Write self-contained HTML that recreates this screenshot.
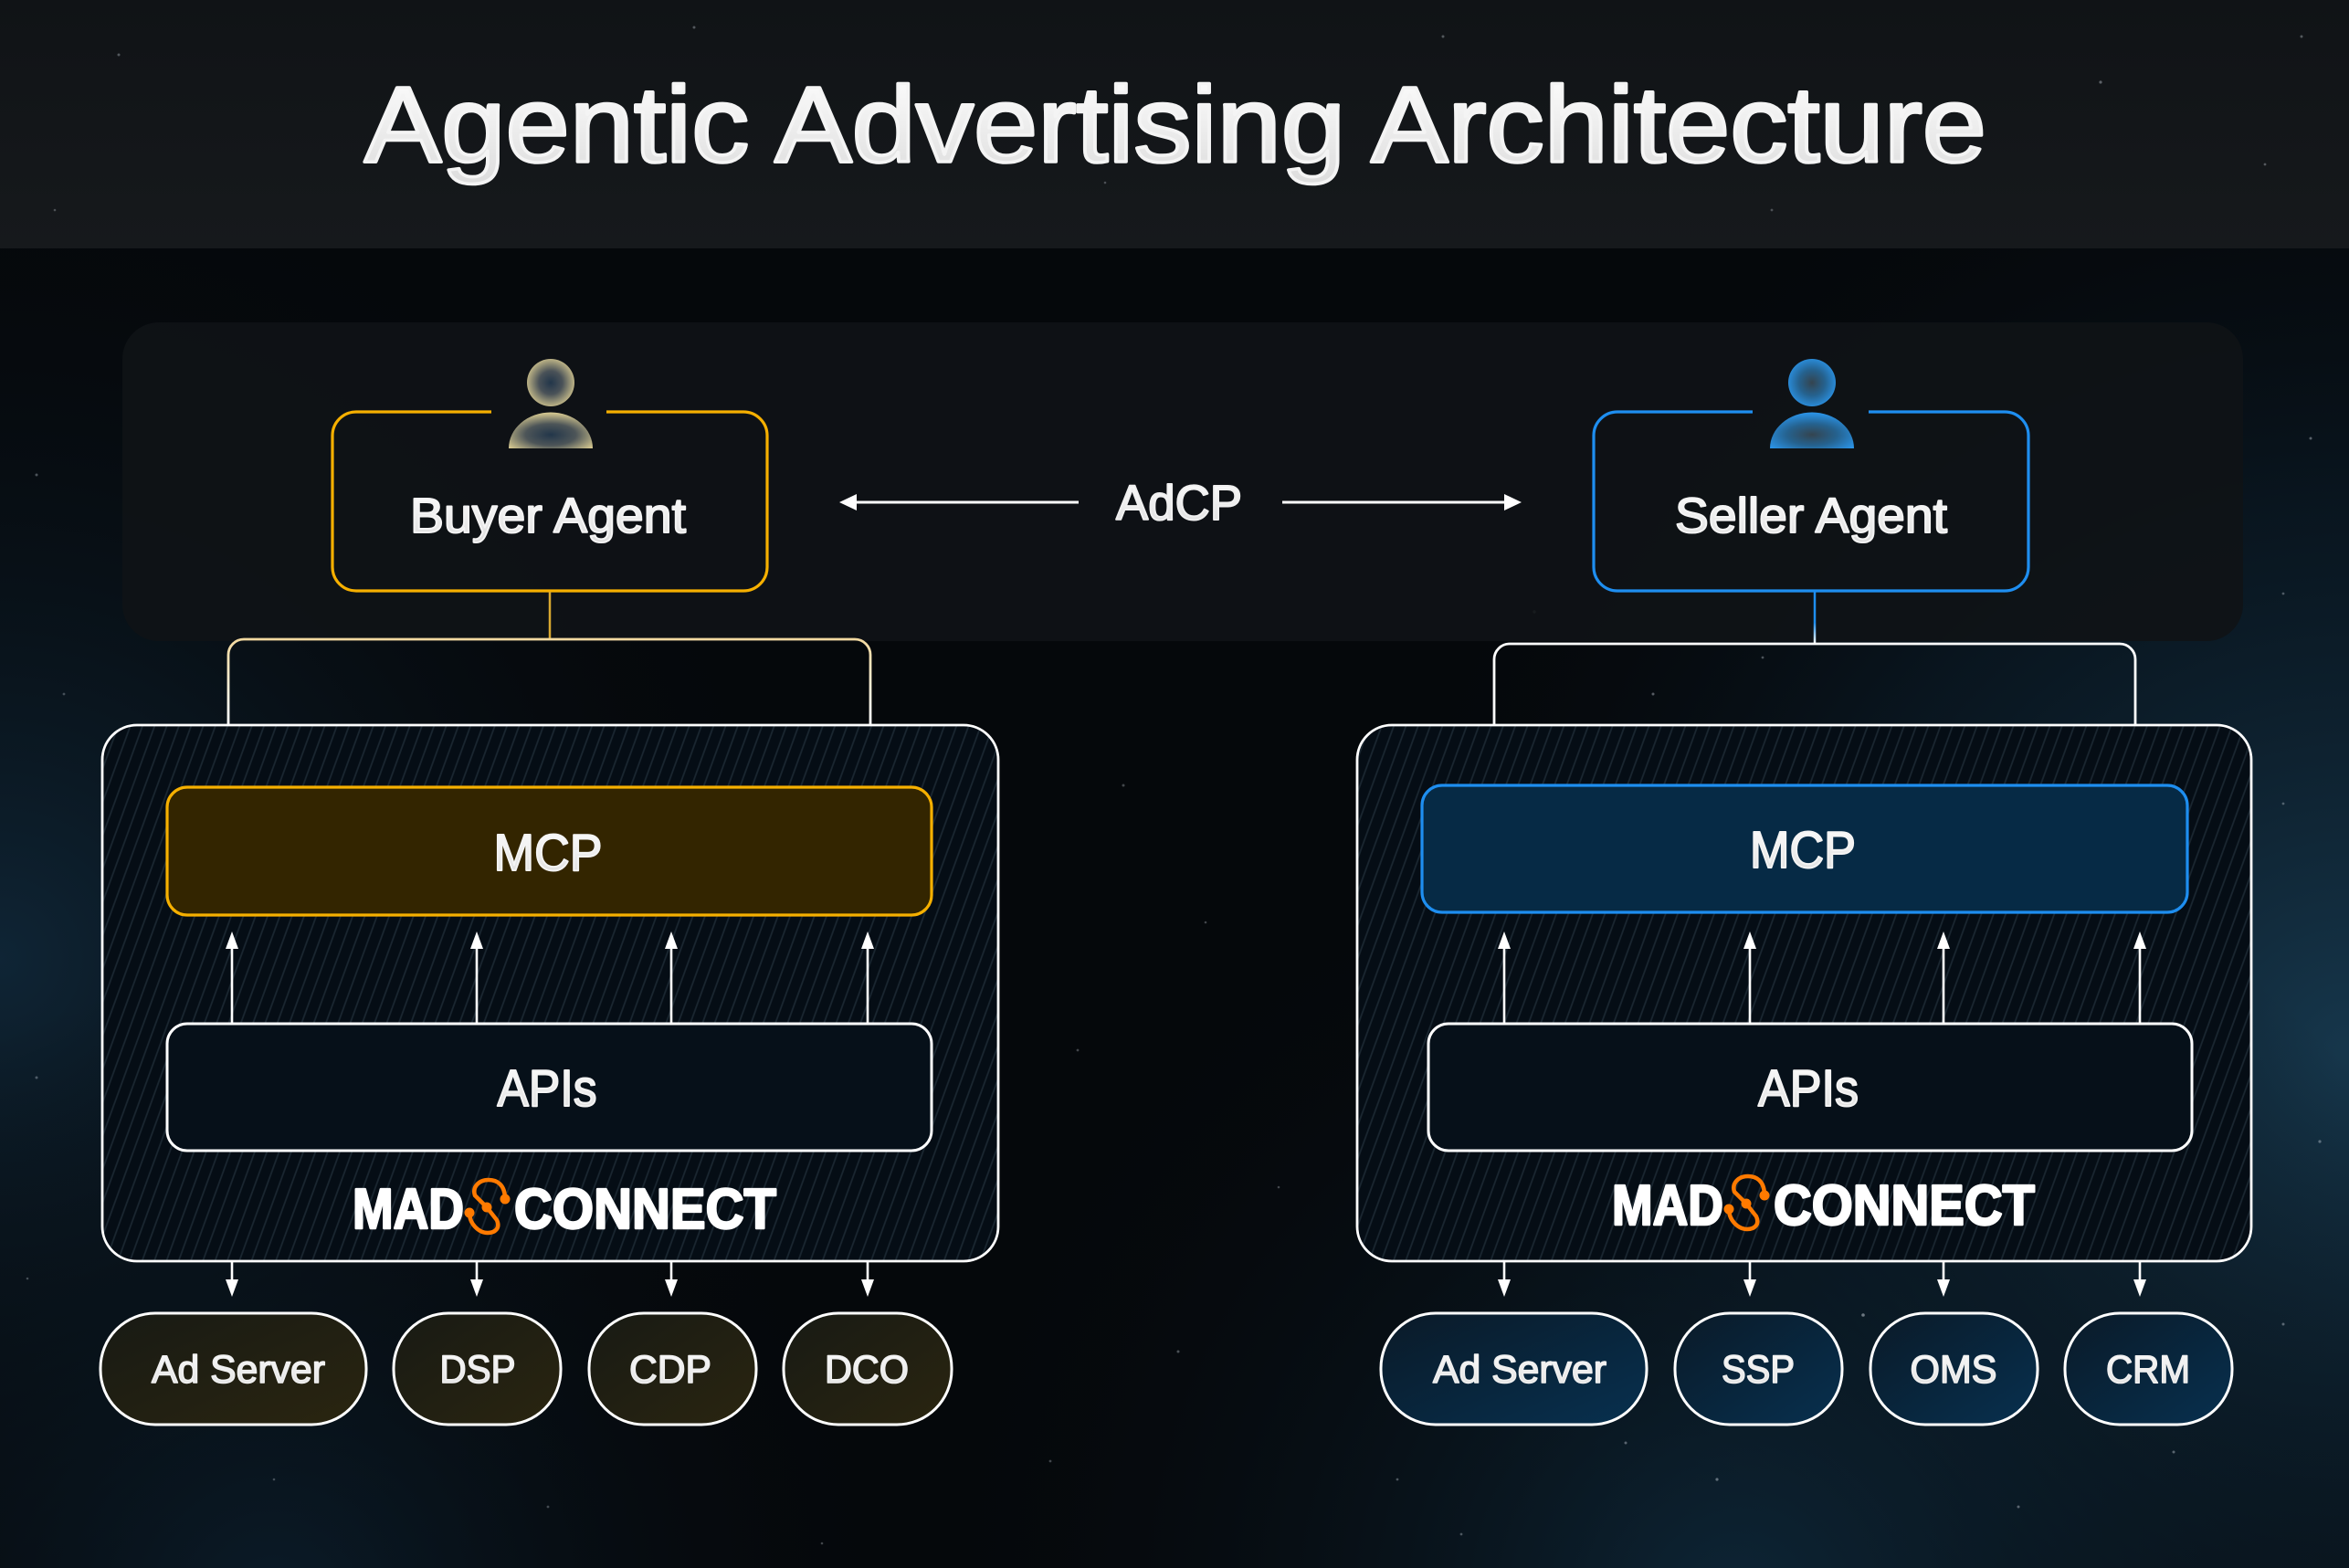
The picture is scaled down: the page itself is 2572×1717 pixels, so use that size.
<!DOCTYPE html>
<html><head><meta charset="utf-8"><style>
html,body{margin:0;padding:0;background:#06090c;}
svg{display:block;}
text{font-family:"Liberation Sans",sans-serif;}
</style></head><body>
<svg width="2572" height="1717" viewBox="0 0 2572 1717" xmlns="http://www.w3.org/2000/svg">
<defs>
  <radialGradient id="gR" cx="2572" cy="1150" r="1100" gradientUnits="userSpaceOnUse">
    <stop offset="0" stop-color="#17394f" stop-opacity="0.95"/>
    <stop offset="0.55" stop-color="#0d2232" stop-opacity="0.5"/>
    <stop offset="1" stop-color="#06090c" stop-opacity="0"/>
  </radialGradient>
  <radialGradient id="gL" cx="0" cy="1050" r="900" gradientUnits="userSpaceOnUse">
    <stop offset="0" stop-color="#10283a" stop-opacity="0.9"/>
    <stop offset="1" stop-color="#06090c" stop-opacity="0"/>
  </radialGradient>
  <radialGradient id="gB" cx="1900" cy="1760" r="900" gradientUnits="userSpaceOnUse">
    <stop offset="0" stop-color="#0f2a3d" stop-opacity="0.85"/>
    <stop offset="1" stop-color="#06090c" stop-opacity="0"/>
  </radialGradient>
  <radialGradient id="gBL" cx="300" cy="1760" r="700" gradientUnits="userSpaceOnUse">
    <stop offset="0" stop-color="#0c2030" stop-opacity="0.8"/>
    <stop offset="1" stop-color="#06090c" stop-opacity="0"/>
  </radialGradient>
  <linearGradient id="band" x1="0" y1="0" x2="0" y2="1">
    <stop offset="0" stop-color="#101316"/>
    <stop offset="1" stop-color="#16191c"/>
  </linearGradient>
  <linearGradient id="txt" x1="0" y1="0" x2="0" y2="1">
    <stop offset="0" stop-color="#ffffff"/>
    <stop offset="1" stop-color="#dcdcdc"/>
  </linearGradient>
  <pattern id="hatch" patternUnits="userSpaceOnUse" width="12.5" height="12.5" patternTransform="rotate(20)">
    <line x1="6" y1="-2" x2="6" y2="15" stroke="#1b2731" stroke-width="1.7"/>
  </pattern>
  <radialGradient id="iconY" cx="0.5" cy="0.5" r="0.55">
    <stop offset="0" stop-color="#22364a"/>
    <stop offset="0.45" stop-color="#4a5258"/>
    <stop offset="1" stop-color="#d3c68f"/>
  </radialGradient>
  <radialGradient id="iconYb" cx="0.5" cy="0.62" r="0.6">
    <stop offset="0" stop-color="#22364a"/>
    <stop offset="0.5" stop-color="#4d5558"/>
    <stop offset="1" stop-color="#d3c68f"/>
  </radialGradient>
  <radialGradient id="iconB" cx="0.5" cy="0.5" r="0.55">
    <stop offset="0" stop-color="#34444f"/>
    <stop offset="0.5" stop-color="#25628f"/>
    <stop offset="1" stop-color="#2b93e6"/>
  </radialGradient>
  <radialGradient id="iconBb" cx="0.5" cy="0.62" r="0.6">
    <stop offset="0" stop-color="#34444f"/>
    <stop offset="0.5" stop-color="#25628f"/>
    <stop offset="1" stop-color="#2b93e6"/>
  </radialGradient>
  <linearGradient id="pillY" x1="0" y1="0" x2="1" y2="1">
    <stop offset="0" stop-color="#181a14"/>
    <stop offset="1" stop-color="#2a2510"/>
  </linearGradient>
  <linearGradient id="pillB" x1="0" y1="0" x2="1" y2="1">
    <stop offset="0" stop-color="#0a1a28"/>
    <stop offset="1" stop-color="#07304f"/>
  </linearGradient>
  <linearGradient id="brY" x1="0" y1="0" x2="0" y2="1">
    <stop offset="0" stop-color="#f2d9a0"/>
    <stop offset="1" stop-color="#ffffff"/>
  </linearGradient>
  <linearGradient id="vB" x1="0" y1="647" x2="0" y2="705" gradientUnits="userSpaceOnUse">
    <stop offset="0" stop-color="#1e8ef0"/>
    <stop offset="0.6" stop-color="#1e8ef0"/>
    <stop offset="1" stop-color="#ffffff"/>
  </linearGradient>
</defs>

<!-- background -->
<rect x="0" y="0" width="2572" height="1717" fill="#05080b"/>
<rect x="0" y="272" width="2572" height="1445" fill="url(#gL)"/>
<rect x="0" y="272" width="2572" height="1445" fill="url(#gR)"/>
<rect x="0" y="272" width="2572" height="1445" fill="url(#gB)"/>
<rect x="0" y="272" width="2572" height="1445" fill="url(#gBL)"/>
<rect x="0" y="0" width="2572" height="272" fill="url(#band)"/>

<!-- stars -->
<g fill="#cfd8e0">
  <circle cx="130" cy="60" r="1.5" opacity="0.35"/><circle cx="420" cy="150" r="1.4" opacity="0.3"/>
  <circle cx="760" cy="30" r="1.5" opacity="0.35"/><circle cx="1210" cy="200" r="1.3" opacity="0.3"/>
  <circle cx="1580" cy="40" r="1.5" opacity="0.35"/><circle cx="1940" cy="230" r="1.4" opacity="0.3"/>
  <circle cx="2300" cy="90" r="1.6" opacity="0.4"/><circle cx="2480" cy="180" r="1.4" opacity="0.35"/>
  <circle cx="2520" cy="40" r="1.5" opacity="0.35"/><circle cx="60" cy="230" r="1.3" opacity="0.3"/>
  <circle cx="40" cy="520" r="1.5" opacity="0.35"/><circle cx="2530" cy="480" r="1.5" opacity="0.4"/>
  <circle cx="2500" cy="650" r="1.4" opacity="0.35"/><circle cx="70" cy="760" r="1.4" opacity="0.3"/>
  <circle cx="1230" cy="860" r="1.5" opacity="0.3"/><circle cx="1320" cy="1010" r="1.3" opacity="0.3"/>
  <circle cx="1180" cy="1150" r="1.4" opacity="0.3"/><circle cx="1400" cy="1300" r="1.3" opacity="0.3"/>
  <circle cx="1290" cy="1480" r="1.5" opacity="0.35"/><circle cx="1150" cy="1600" r="1.4" opacity="0.3"/>
  <circle cx="40" cy="1180" r="1.5" opacity="0.35"/><circle cx="30" cy="1400" r="1.3" opacity="0.3"/>
  <circle cx="2540" cy="1250" r="1.6" opacity="0.4"/><circle cx="2500" cy="1450" r="1.5" opacity="0.4"/>
  <circle cx="2210" cy="1650" r="1.5" opacity="0.4"/><circle cx="1880" cy="1620" r="1.6" opacity="0.45"/>
  <circle cx="1600" cy="1680" r="1.4" opacity="0.35"/><circle cx="600" cy="1650" r="1.4" opacity="0.3"/>
  <circle cx="300" cy="1620" r="1.3" opacity="0.3"/><circle cx="900" cy="1690" r="1.3" opacity="0.3"/>
  <circle cx="2040" cy="1440" r="1.8" opacity="0.5"/><circle cx="1780" cy="1580" r="1.5" opacity="0.4"/>
  <circle cx="2380" cy="1590" r="1.5" opacity="0.4"/><circle cx="1530" cy="1620" r="1.4" opacity="0.35"/>
  <circle cx="1680" cy="670" r="1.7" opacity="0.45"/><circle cx="1810" cy="760" r="1.5" opacity="0.4"/>
  <circle cx="1930" cy="720" r="1.4" opacity="0.35"/><circle cx="2500" cy="880" r="1.4" opacity="0.35"/>
</g>

<!-- title -->
<text x="399" y="177" font-size="118" fill="url(#txt)" stroke="#f4f4f4" stroke-width="3.6" stroke-linejoin="round" textLength="1776" lengthAdjust="spacingAndGlyphs">Agentic Advertising Architecture</text>

<!-- top panel -->
<rect x="134" y="353" width="2322" height="349" rx="40" fill="#101316" opacity="0.9"/>

<!-- buyer agent -->
<path d="M538 451 H390 A26 26 0 0 0 364 477 V621 A26 26 0 0 0 390 647 H814 A26 26 0 0 0 840 621 V477 A26 26 0 0 0 814 451 H664" fill="none" stroke="#f6b000" stroke-width="3.2"/>
<circle cx="603" cy="419" r="26" fill="url(#iconY)"/>
<path d="M557 491 A46 39.5 0 0 1 649 491 Z" fill="url(#iconYb)"/>
<text x="600" y="583" font-size="54" text-anchor="middle" fill="url(#txt)" stroke="#f4f4f4" stroke-width="2" stroke-linejoin="round" textLength="302" lengthAdjust="spacingAndGlyphs">Buyer Agent</text>

<!-- seller agent -->
<path d="M1919 451 H1771 A26 26 0 0 0 1745 477 V621 A26 26 0 0 0 1771 647 H2195 A26 26 0 0 0 2221 621 V477 A26 26 0 0 0 2195 451 H2046" fill="none" stroke="#1e8ef0" stroke-width="3.2"/>
<circle cx="1984" cy="419" r="26" fill="url(#iconB)"/>
<path d="M1938 491 A46 39.5 0 0 1 2030 491 Z" fill="url(#iconBb)"/>
<text x="1983" y="583" font-size="54" text-anchor="middle" fill="url(#txt)" stroke="#f4f4f4" stroke-width="2" stroke-linejoin="round" textLength="298" lengthAdjust="spacingAndGlyphs">Seller Agent</text>

<!-- AdCP -->
<line x1="934" y1="550" x2="1181" y2="550" stroke="#ffffff" stroke-width="3"/>
<polygon points="919,550 938,541 938,559" fill="#ffffff"/>
<line x1="1404" y1="550" x2="1651" y2="550" stroke="#ffffff" stroke-width="3"/>
<polygon points="1666,550 1647,541 1647,559" fill="#ffffff"/>
<text x="1291" y="569" font-size="54" text-anchor="middle" fill="url(#txt)" stroke="#f0f0f0" stroke-width="2" stroke-linejoin="round" textLength="138" lengthAdjust="spacingAndGlyphs">AdCP</text>

<!-- connectors from agents -->
<line x1="602" y1="648" x2="602" y2="700" stroke="#d9a830" stroke-width="2.5"/>
<path d="M250 793 V717 A17 17 0 0 1 267 700 H936 A17 17 0 0 1 953 717 V793" fill="none" stroke="url(#brY)" stroke-width="2.8"/>
<line x1="1987" y1="648" x2="1987" y2="705" stroke="url(#vB)" stroke-width="2.5"/>
<path d="M1636 793 V722 A17 17 0 0 1 1653 705 H2321 A17 17 0 0 1 2338 722 V793" fill="none" stroke="#ffffff" stroke-width="2.8"/>

<!-- buyer container -->
<rect x="112" y="794" width="981" height="587" rx="38" fill="#050d15"/>
<rect x="112" y="794" width="981" height="587" rx="38" fill="url(#hatch)"/>
<rect x="112" y="794" width="981" height="587" rx="38" fill="none" stroke="#ffffff" stroke-width="2.8"/>
<rect x="183" y="862" width="837" height="140" rx="22" fill="#332500" stroke="#f6b000" stroke-width="3.2"/>
<text x="600" y="953" font-size="57" text-anchor="middle" fill="url(#txt)" stroke="#f4f4f4" stroke-width="2" stroke-linejoin="round" textLength="119" lengthAdjust="spacingAndGlyphs">MCP</text>
<g stroke="#ffffff" stroke-width="2.6">
  <line x1="254" y1="1121" x2="254" y2="1034"/><line x1="522" y1="1121" x2="522" y2="1034"/>
  <line x1="735" y1="1121" x2="735" y2="1034"/><line x1="950" y1="1121" x2="950" y2="1034"/>
</g>
<g fill="#ffffff">
  <polygon points="254,1020 247,1039 261,1039"/><polygon points="522,1020 515,1039 529,1039"/>
  <polygon points="735,1020 728,1039 742,1039"/><polygon points="950,1020 943,1039 957,1039"/>
</g>
<rect x="183" y="1121" width="837" height="139" rx="22" fill="#061019" stroke="#ffffff" stroke-width="3"/>
<text x="599" y="1211" font-size="57" text-anchor="middle" fill="url(#txt)" stroke="#f4f4f4" stroke-width="2" stroke-linejoin="round" textLength="109" lengthAdjust="spacingAndGlyphs">APIs</text>
<!-- logo buyer -->
<text x="386" y="1345" font-size="62" font-weight="bold" fill="#ffffff" stroke="#ffffff" stroke-width="2.5" stroke-linejoin="round" textLength="122" lengthAdjust="spacingAndGlyphs">MAD</text>
<g fill="none" stroke="#ff7a00" stroke-width="4.5" stroke-linecap="round">
  <path d="M553 1313 C553 1297 544 1292 535 1292 C524 1292 517 1300 520 1309 L533 1322"/>
  <path d="M533 1322 L544 1336 C548 1345 542 1350 534 1350 C524 1350 514 1340 514 1328"/>
</g>
<g fill="#ff7a00"><circle cx="553" cy="1313" r="5.5"/><circle cx="533" cy="1322" r="5.5"/><circle cx="514" cy="1328" r="5.5"/></g>
<text x="563" y="1345" font-size="62" font-weight="bold" fill="#ffffff" stroke="#ffffff" stroke-width="2.5" stroke-linejoin="round" textLength="287" lengthAdjust="spacingAndGlyphs">CONNECT</text>
<!-- down arrows buyer -->
<g stroke="#ffffff" stroke-width="2.6">
  <line x1="254" y1="1381" x2="254" y2="1406"/><line x1="522" y1="1381" x2="522" y2="1406"/>
  <line x1="735" y1="1381" x2="735" y2="1406"/><line x1="950" y1="1381" x2="950" y2="1406"/>
</g>
<g fill="#ffffff">
  <polygon points="254,1420 247,1401 261,1401"/><polygon points="522,1420 515,1401 529,1401"/>
  <polygon points="735,1420 728,1401 742,1401"/><polygon points="950,1420 943,1401 957,1401"/>
</g>
<!-- buyer pills -->
<g stroke="#ffffff" stroke-width="3" fill="url(#pillY)">
  <rect x="110" y="1438" width="291" height="122" rx="60"/>
  <rect x="431" y="1438" width="183" height="122" rx="60"/>
  <rect x="645" y="1438" width="183" height="122" rx="60"/>
  <rect x="858" y="1438" width="184" height="122" rx="60"/>
</g>
<g font-size="43" text-anchor="middle" fill="url(#txt)" stroke="#f0f0f0" stroke-width="1.6" stroke-linejoin="round">
  <text x="261" y="1514" textLength="190" lengthAdjust="spacingAndGlyphs">Ad Server</text>
  <text x="523" y="1514" textLength="83" lengthAdjust="spacingAndGlyphs">DSP</text>
  <text x="734" y="1514" textLength="90" lengthAdjust="spacingAndGlyphs">CDP</text>
  <text x="949" y="1514" textLength="92" lengthAdjust="spacingAndGlyphs">DCO</text>
</g>

<!-- seller container -->
<rect x="1486" y="794" width="979" height="587" rx="38" fill="#050d15"/>
<rect x="1486" y="794" width="979" height="587" rx="38" fill="url(#hatch)"/>
<rect x="1486" y="794" width="979" height="587" rx="38" fill="none" stroke="#ffffff" stroke-width="2.8"/>
<rect x="1557" y="860" width="838" height="139" rx="22" fill="#062a45" stroke="#1e8ef0" stroke-width="3.2"/>
<text x="1974" y="950" font-size="57" text-anchor="middle" fill="url(#txt)" stroke="#f4f4f4" stroke-width="2" stroke-linejoin="round" textLength="116" lengthAdjust="spacingAndGlyphs">MCP</text>
<g stroke="#ffffff" stroke-width="2.6">
  <line x1="1647" y1="1121" x2="1647" y2="1034"/><line x1="1916" y1="1121" x2="1916" y2="1034"/>
  <line x1="2128" y1="1121" x2="2128" y2="1034"/><line x1="2343" y1="1121" x2="2343" y2="1034"/>
</g>
<g fill="#ffffff">
  <polygon points="1647,1020 1640,1039 1654,1039"/><polygon points="1916,1020 1909,1039 1923,1039"/>
  <polygon points="2128,1020 2121,1039 2135,1039"/><polygon points="2343,1020 2336,1039 2350,1039"/>
</g>
<rect x="1564" y="1121" width="836" height="139" rx="22" fill="#061019" stroke="#ffffff" stroke-width="3"/>
<text x="1980" y="1211" font-size="57" text-anchor="middle" fill="url(#txt)" stroke="#f4f4f4" stroke-width="2" stroke-linejoin="round" textLength="110" lengthAdjust="spacingAndGlyphs">APIs</text>
<!-- logo seller -->
<text x="1765" y="1341" font-size="62" font-weight="bold" fill="#ffffff" stroke="#ffffff" stroke-width="2.5" stroke-linejoin="round" textLength="122" lengthAdjust="spacingAndGlyphs">MAD</text>
<g fill="none" stroke="#ff7a00" stroke-width="4.5" stroke-linecap="round">
  <path d="M1932 1309 C1932 1293 1923 1288 1914 1288 C1903 1288 1896 1296 1899 1305 L1912 1318"/>
  <path d="M1912 1318 L1923 1332 C1927 1341 1921 1346 1913 1346 C1903 1346 1893 1336 1893 1324"/>
</g>
<g fill="#ff7a00"><circle cx="1932" cy="1309" r="5.5"/><circle cx="1912" cy="1318" r="5.5"/><circle cx="1893" cy="1324" r="5.5"/></g>
<text x="1942" y="1341" font-size="62" font-weight="bold" fill="#ffffff" stroke="#ffffff" stroke-width="2.5" stroke-linejoin="round" textLength="286" lengthAdjust="spacingAndGlyphs">CONNECT</text>
<!-- down arrows seller -->
<g stroke="#ffffff" stroke-width="2.6">
  <line x1="1647" y1="1381" x2="1647" y2="1406"/><line x1="1916" y1="1381" x2="1916" y2="1406"/>
  <line x1="2128" y1="1381" x2="2128" y2="1406"/><line x1="2343" y1="1381" x2="2343" y2="1406"/>
</g>
<g fill="#ffffff">
  <polygon points="1647,1420 1640,1401 1654,1401"/><polygon points="1916,1420 1909,1401 1923,1401"/>
  <polygon points="2128,1420 2121,1401 2135,1401"/><polygon points="2343,1420 2336,1401 2350,1401"/>
</g>
<!-- seller pills -->
<g stroke="#ffffff" stroke-width="3" fill="url(#pillB)">
  <rect x="1512" y="1438" width="291" height="122" rx="60"/>
  <rect x="1834" y="1438" width="183" height="122" rx="60"/>
  <rect x="2048" y="1438" width="183" height="122" rx="60"/>
  <rect x="2261" y="1438" width="183" height="122" rx="60"/>
</g>
<g font-size="43" text-anchor="middle" fill="url(#txt)" stroke="#f0f0f0" stroke-width="1.6" stroke-linejoin="round">
  <text x="1664" y="1514" textLength="190" lengthAdjust="spacingAndGlyphs">Ad Server</text>
  <text x="1925" y="1514" textLength="80" lengthAdjust="spacingAndGlyphs">SSP</text>
  <text x="2139" y="1514" textLength="95" lengthAdjust="spacingAndGlyphs">OMS</text>
  <text x="2352" y="1514" textLength="92" lengthAdjust="spacingAndGlyphs">CRM</text>
</g>
</svg>
</body></html>
